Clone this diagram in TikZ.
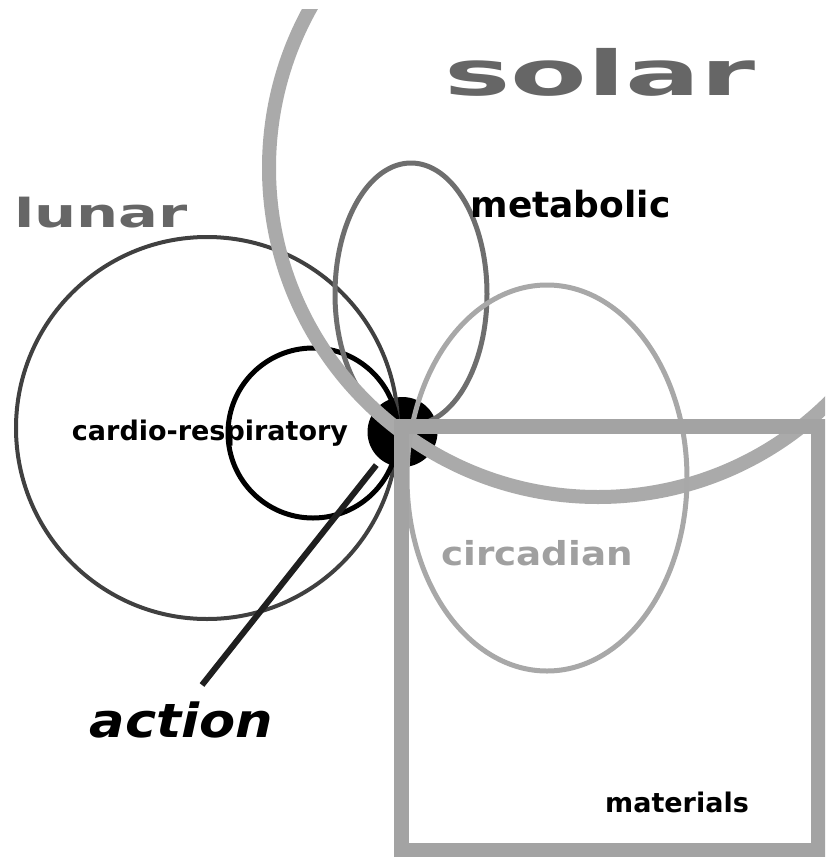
\documentclass[tikz,border=0pt]{standalone}
\usepackage{fontspec}
\setmainfont{DejaVu Sans}
\usepackage{graphicx}
\usetikzlibrary{shapes.geometric}

\definecolor{solargray}{HTML}{AAAAAA}
\definecolor{boxgray}{HTML}{A3A3A3}
\definecolor{circgray}{HTML}{A8A8A8}
\definecolor{metagray}{HTML}{6E6E6E}
\definecolor{lunargray}{HTML}{404040}
\definecolor{titlegray}{HTML}{666666}
\definecolor{circtext}{HTML}{A0A0A0}

\begin{document}
\begin{tikzpicture}[
    x=1pt, y=-1pt,
    ring/.style={circle, draw=#1, inner sep=0pt},
    ring/.default={black},
    oval/.style={ellipse, draw=#1, inner sep=0pt},
    oval/.default={black},
    word/.style={text=#1, inner sep=0pt, anchor=base},
    word/.default={black},
    pointer/.style={line width=6pt, draw=black!88}
]
\path[use as bounding box] (0,0) rectangle (825,857);
\clip (0,9) rectangle (825,857);

% === CENTRE ===
\node[circle, fill=black, minimum size=70pt, inner sep=0pt] (hub) at (402.5,432) {};

% === LUNAR ===
\node[ring=lunargray, line width=4pt, minimum size=382pt] (lunar) at (207,428) {};
\node[ring, line width=5pt, minimum size=170pt] (cardio) at (313,433) {};

% === SOLAR ===
\node[oval=metagray, line width=5pt, minimum width=152pt, minimum height=262pt] (metabolic) at (411,294) {};
\node[ring=solargray, line width=14pt, minimum size=658pt] (solar) at (598,168) {};
\node[oval=circgray, line width=5pt, minimum width=280pt, minimum height=386pt] (circadian) at (547,478) {};

% === MATERIALS ===
\node[rectangle, draw=boxgray, line width=15pt, minimum width=417pt, minimum height=424pt, inner sep=0pt] (materials) at (609.5,638) {};

% === ACTION ===
\coordinate (tip) at (202,685);
\draw[pointer, shorten <=7pt] (hub) -- (tip);

% === LABELS ===
\node[word=titlegray, font=\bfseries\fontsize{62}{62}\selectfont] (solarlbl) at (600,95) {\scalebox{1.8}[1]{solar}};
\node[word=titlegray, font=\bfseries\fontsize{40}{40}\selectfont] (lunarlbl) at (101,227) {\scalebox{1.48}[1]{lunar}};
\node[word, font=\bfseries\fontsize{36}{36}\selectfont] (metalbl) at (570.5,217) {metabolic};
\node[word, font=\bfseries\fontsize{27}{27}\selectfont] (cardiolbl) at (210,440) {cardio-respiratory};
\node[word=circtext, font=\bfseries\fontsize{33}{33}\selectfont] (circlbl) at (537,565) {\scalebox{1.13}[1]{circadian}};
\node[word, font=\bfseries\fontsize{27}{27}\selectfont] (matlbl) at (677,812) {materials};
\node[word, font=\bfseries\itshape\fontsize{47}{47}\selectfont] (actionlbl) at (181.5,737) {\scalebox{1.12}[1]{action}};

\end{tikzpicture}
\end{document}
